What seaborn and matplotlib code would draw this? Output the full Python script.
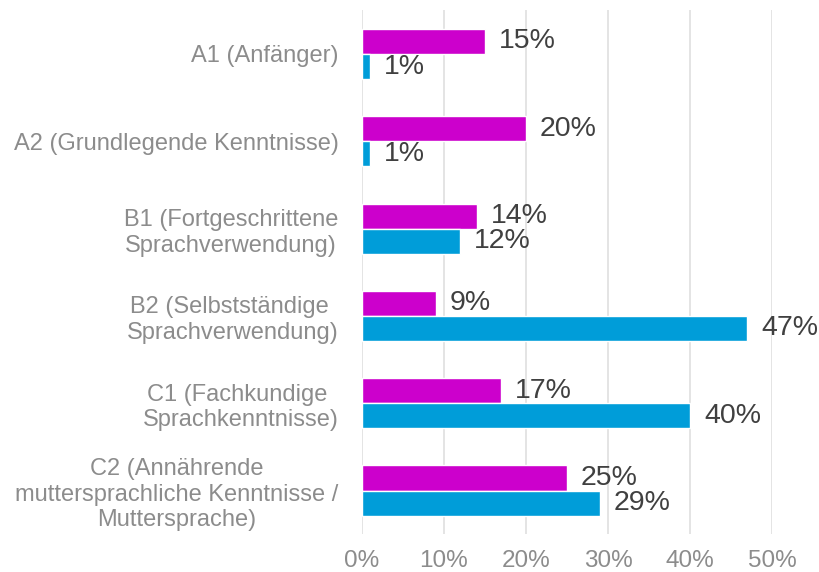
import numpy as np
import pandas as pd
import matplotlib
matplotlib.use('Agg')
import matplotlib.pyplot as plt
import seaborn as sns

# data
levels = ['A1 (Anfänger)',
          'A2 (Grundlegende Kenntnisse)',
          'B1 (Fortgeschrittene\nSprachverwendung)',
          'B2 (Selbstständige \nSprachverwendung)',
          'C1 (Fachkundige \nSprachkenntnisse)',
          'C2 (Annährende\nmuttersprachliche Kenntnisse /\nMuttersprache)']
series_names = ['Gruppe 1', 'Gruppe 2']
magenta_vals = [15, 20, 14, 9, 17, 25]
blue_vals = [1, 1, 12, 47, 40, 29]
xticks = [0, 10, 20, 30, 40, 50]

df = pd.DataFrame({
    'level': levels * 2,
    'series': [series_names[0]] * len(levels) + [series_names[1]] * len(levels),
    'value': magenta_vals + blue_vals,
})

sns.set_theme(style='white')
plt.rcParams['font.family'] = ['Liberation Sans', 'DejaVu Sans']

fig, ax = plt.subplots(figsize=(8.19, 5.72), dpi=100)
fig.subplots_adjust(left=0.442, right=0.9426, top=0.982, bottom=0.066)

sns.barplot(data=df, y='level', x='value', hue='series', orient='h',
            palette=['#CC00CC', '#009DD9'], width=0.575, saturation=1,
            legend=False, ax=ax, zorder=2)

for cont in ax.containers:
    ax.bar_label(cont, fmt='%d%%', padding=10, fontsize=20.5, color='#404040')

ax.set_xlim(0, 50)
ax.set_xticks(xticks)
ax.set_xticklabels([f'{t}%' for t in xticks])
ax.xaxis.grid(True, color='#DCDCDC', lw=1.1, zorder=0)
ax.set_axisbelow(True)
for s in ax.spines.values():
    s.set_visible(False)
ax.set_xlabel('')
ax.set_ylabel('')
ax.tick_params(axis='x', labelsize=17.5, colors='#8C8C8C', length=0, pad=11)
ax.tick_params(axis='y', labelsize=17, colors='#8C8C8C', length=0, pad=17)
for lab in ax.get_yticklabels():
    lab.set_multialignment('center')

fig.savefig('out.png', dpi=100)
